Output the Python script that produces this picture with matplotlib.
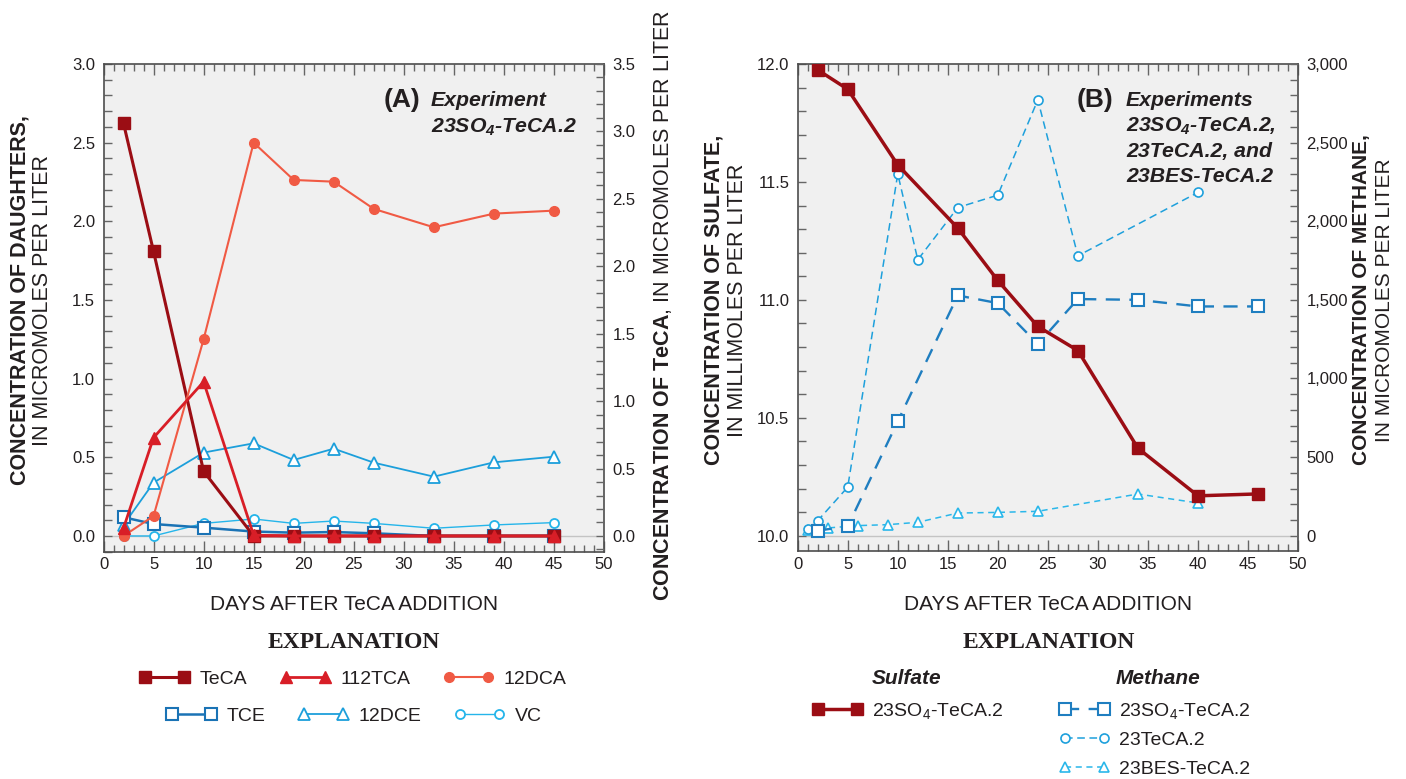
import numpy as np
import matplotlib
matplotlib.use("Agg")
import matplotlib.pyplot as plt
from matplotlib.ticker import MultipleLocator, StrMethodFormatter

plt.rcParams.update({
    "font.family": ["Liberation Sans", "DejaVu Sans"],
    "mathtext.fontset": "custom",
    "mathtext.rm": "Liberation Sans",
    "mathtext.bf": "Liberation Sans:bold",
    "mathtext.it": "Liberation Sans:italic",
    "mathtext.bfit": "Liberation Sans:bold:italic",
})

# ---- Panel A data: experiment 23SO4-TeCA.2 ----
days_a = [2, 5, 10, 15, 19, 23, 27, 33, 39, 45]
teca = [3.06, 2.11, 0.48, 0.0, 0.0, 0.0, 0.0, 0.0, 0.0, 0.0]          # right axis
tca112 = [0.05, 0.625, 0.98, 0.005, 0.0, 0.0, 0.0, 0.0, 0.0, 0.0]
dca12 = [0.0, 0.127, 1.25, 2.50, 2.263, 2.252, 2.079, 1.962, 2.049, 2.068]
tce = [0.119, 0.076, 0.053, 0.028, 0.021, 0.025, 0.017, 0.0, 0.0, 0.0]
dce12 = [0.07, 0.339, 0.53, 0.589, 0.483, 0.555, 0.466, 0.377, 0.468, 0.504]
vc = [0.0, 0.0, 0.08, 0.108, 0.08, 0.095, 0.08, 0.049, 0.07, 0.085]

# ---- Panel B data: sulfate (left axis) and methane (right axis) ----
sulfate_days = [2, 5, 10, 16, 20, 24, 28, 34, 40, 46]
sulfate = [11.975, 11.893, 11.572, 11.304, 11.082, 10.887, 10.785, 10.371, 10.169, 10.177]
meth_so4_days = [2, 5, 10, 16, 20, 24, 28, 34, 40, 46]
meth_so4 = [32, 59, 727, 1528, 1479, 1219, 1505, 1500, 1458, 1458]
meth_teca_days = [1, 2, 5, 10, 12, 16, 20, 24, 28, 40]
meth_teca = [42, 95, 309, 2301, 1755, 2087, 2166, 2772, 1780, 2183]
meth_bes_days = [1, 3, 6, 9, 12, 16, 20, 24, 34, 40]
meth_bes = [38, 49, 64, 70, 85, 144, 148, 155, 265, 208]

C_TECA = "#9b0d14"
C_TCA = "#d81e27"
C_DCA = "#f05a44"
C_TCE = "#1a73b5"
C_DCE = "#1c9fdb"
C_VC = "#25b5ea"
C_M1 = "#1f7ec0"
C_M2 = "#1ea0dc"
C_M3 = "#2ab7ea"
BG = "#f0f0f0"
TXT = "#231f20"

W, H = 1406, 779


def fx(x):
    return x / W


def fy(y):
    return 1 - y / H


def style_axes(ax, ax2, yminor_l, yminor_r):
    ax.set_facecolor(BG)
    for s in ax.spines.values():
        s.set_color("#4d4d4d")
        s.set_linewidth(1.2)
    ax.set_xlim(0, 50)
    ax.xaxis.set_major_locator(MultipleLocator(5))
    ax.xaxis.set_minor_locator(MultipleLocator(1))
    ax.tick_params(axis="x", which="both", direction="in", top=True, bottom=True,
                   color="#666666", labelsize=12, labelcolor=TXT, pad=4)
    ax.tick_params(axis="x", which="major", length=8, width=1)
    ax.tick_params(axis="x", which="minor", length=5, width=1)
    ax.yaxis.set_minor_locator(MultipleLocator(yminor_l))
    ax.tick_params(axis="y", which="both", direction="in", left=True, right=False,
                   length=6, width=1, color="#666666", labelsize=12, labelcolor=TXT, pad=6)
    ax2.yaxis.set_minor_locator(MultipleLocator(yminor_r))
    ax2.tick_params(axis="y", which="both", direction="in", right=True, left=False,
                    length=6, width=1, color="#666666", labelsize=12, labelcolor=TXT, pad=6)
    for s in ax2.spines.values():
        s.set_visible(False)


fig = plt.figure(figsize=(W / 100, H / 100), dpi=100)

# ================= Panel A =================
axA = fig.add_axes([fx(103.5), fy(551.7), fx(604) - fx(103.5), fy(64) - fy(551.7)])
axA2 = axA.twinx()
axA.set_ylim(-0.1, 3.0)
axA2.set_ylim(-0.1 * 3.5 / 3.0, 3.5)
axA.yaxis.set_major_locator(MultipleLocator(0.5))
axA2.yaxis.set_major_locator(MultipleLocator(0.5))
axA.yaxis.set_major_formatter(StrMethodFormatter("{x:.1f}"))
axA2.yaxis.set_major_formatter(StrMethodFormatter("{x:.1f}"))
style_axes(axA, axA2, 0.1, 0.1)
axA.axhline(0, xmin=0.016, xmax=0.984, color="#c4c4c4", lw=1, zorder=1)

l_vc, = axA.plot(days_a, vc, "-o", color=C_VC, lw=1.0, ms=6.5, mfc="white", mec=C_VC, mew=1.3,
                 label="VC", zorder=2)
l_dce, = axA.plot(days_a, dce12, "-^", color=C_DCE, lw=1.3, ms=8, mfc="white", mec=C_DCE, mew=1.3,
                  label="12DCE", zorder=3)
l_tce, = axA.plot(days_a, tce, "-s", color=C_TCE, lw=1.8, ms=8, mfc="white", mec=C_TCE, mew=1.5,
                  label="TCE", zorder=4)
# TeCA uses the right-hand scale
l_teca, = axA.plot(days_a, teca, "-s", color=C_TECA, lw=2.2, ms=8.5, mfc=C_TECA, mec=C_TECA,
                   transform=axA2.transData, label="TeCA", zorder=5)
l_dca, = axA.plot(days_a, dca12, "-o", color=C_DCA, lw=1.5, ms=7, mfc=C_DCA, mec=C_DCA,
                  label="12DCA", zorder=6)
l_tca, = axA.plot(days_a, tca112, "-^", color=C_TCA, lw=2.0, ms=8.5, mfc=C_TCA, mec=C_TCA,
                  label="112TCA", zorder=7)
axA.set_xlim(0, 50)
axA.set_ylim(-0.1, 3.0)

# ================= Panel B =================
axB = fig.add_axes([fx(797.7), fy(551), fx(1298) - fx(797.7), fy(64) - fy(551)])
axB2 = axB.twinx()
axB.set_ylim(10.0 - 0.065, 12.0)
axB2.set_ylim(-0.065 * 1500, 3000)
axB.yaxis.set_major_locator(MultipleLocator(0.5))
axB2.yaxis.set_major_locator(MultipleLocator(500))
axB.yaxis.set_major_formatter(StrMethodFormatter("{x:.1f}"))
axB2.yaxis.set_major_formatter(StrMethodFormatter("{x:,.0f}"))
style_axes(axB, axB2, 0.1, 100)
axB.axhline(10.0, xmin=0.016, xmax=0.984, color="#c4c4c4", lw=1, zorder=1)

m_bes, = axB.plot(meth_bes_days, meth_bes, "--^", color=C_M3, lw=1.1, dashes=(4, 3), ms=7.5,
                  mfc="white", mec=C_M3, mew=1.2, transform=axB2.transData,
                  label="23BES-TeCA.2", zorder=2)
m_teca, = axB.plot(meth_teca_days, meth_teca, "--o", color=C_M2, lw=1.1, dashes=(5, 3), ms=6.5,
                   mfc="white", mec=C_M2, mew=1.2, transform=axB2.transData,
                   label="23TeCA.2", zorder=3)
m_so4, = axB.plot(meth_so4_days, meth_so4, "--s", color=C_M1, lw=1.7, dashes=(6, 4), ms=8,
                  mfc="white", mec=C_M1, mew=1.5, transform=axB2.transData,
                  label=r"23SO$_{\mathrm{4}}$-TeCA.2", zorder=4)
s_so4, = axB.plot(sulfate_days, sulfate, "-s", color=C_TECA, lw=2.5, ms=9, mfc=C_TECA, mec=C_TECA,
                  label=r"23SO$_{\mathrm{4}}$-TeCA.2", zorder=5)
axB.set_xlim(0, 50)
axB.set_ylim(10.0 - 0.065, 12.0)

# ---- axis titles ----
LAB = 15.5
fig.text(fx(20), fy(300), "CONCENTRATION OF DAUGHTERS,", rotation=90, ha="center", va="center",
         fontsize=LAB, fontweight="bold", color=TXT)
fig.text(fx(43), fy(300), "IN MICROMOLES PER LITER", rotation=90, ha="center", va="center",
         fontsize=LAB, color=TXT)
fig.text(fx(663), fy(305), r"$\mathbf{CONCENTRATION\ OF\ TeCA}$, IN MICROMOLES PER LITER",
         rotation=90, ha="center", va="center", fontsize=LAB, color=TXT)
fig.text(fx(714), fy(300), "CONCENTRATION OF SULFATE,", rotation=90, ha="center", va="center",
         fontsize=LAB, fontweight="bold", color=TXT)
fig.text(fx(737), fy(300), "IN MILLIMOLES PER LITER", rotation=90, ha="center", va="center",
         fontsize=LAB, color=TXT)
fig.text(fx(1361), fy(300), "CONCENTRATION OF METHANE,", rotation=90, ha="center", va="center",
         fontsize=15, fontweight="bold", color=TXT)
fig.text(fx(1384), fy(300), "IN MICROMOLES PER LITER", rotation=90, ha="center", va="center",
         fontsize=15, color=TXT)
fig.text(fx(354), fy(604), "DAYS AFTER TeCA ADDITION", ha="center", va="center", fontsize=15, color=TXT)
fig.text(fx(1048), fy(604), "DAYS AFTER TeCA ADDITION", ha="center", va="center", fontsize=15, color=TXT)

# ---- panel annotations ----
fig.text(fx(384), fy(107), "(A)", fontsize=19, fontweight="bold", color=TXT, va="baseline")
fig.text(fx(431), fy(106), "Experiment", fontsize=15.3, fontweight="bold", style="italic",
         color=TXT, va="baseline")
fig.text(fx(431), fy(133), r"23SO$_{\mathbfit{4}}$-TeCA.2", fontsize=15.3, fontweight="bold",
         style="italic", color=TXT, va="baseline")
fig.text(fx(1077), fy(107), "(B)", fontsize=19, fontweight="bold", color=TXT, va="baseline")
fig.text(fx(1126), fy(106), "Experiments", fontsize=15.3, fontweight="bold", style="italic",
         color=TXT, va="baseline")
for i, line in enumerate([r"23SO$_{\mathbfit{4}}$-TeCA.2,", "23TeCA.2, and", "23BES-TeCA.2"]):
    fig.text(fx(1126), fy(132 + 25 * i), line, fontsize=15.3, fontweight="bold", style="italic",
             color=TXT, va="baseline")

# ---- explanations ----
for cx in (354, 1049):
    fig.text(fx(cx), fy(642), "EXPLANATION", ha="center", va="center", fontsize=17,
             fontweight="bold", family="Liberation Serif", color=TXT)

leg_kw = dict(frameon=False, numpoints=2, handlelength=2.6, handletextpad=0.5,
              columnspacing=1.7, borderpad=0, borderaxespad=0, fontsize=14,
              labelcolor=TXT)
fig.legend(handles=[l_teca, l_tca, l_dca], loc="center", ncol=3,
           bbox_to_anchor=(fx(353), fy(679)), **leg_kw)
fig.legend(handles=[l_tce, l_dce, l_vc], loc="center", ncol=3,
           bbox_to_anchor=(fx(354), fy(716)), **leg_kw)

fig.text(fx(907), fy(679), "Sulfate", ha="center", va="center", fontsize=15,
         fontweight="bold", style="italic", color=TXT)
fig.text(fx(1158), fy(679), "Methane", ha="center", va="center", fontsize=15,
         fontweight="bold", style="italic", color=TXT)
fig.legend(handles=[s_so4], loc="center left", bbox_to_anchor=(fx(812), fy(711)), **leg_kw)
for h, yy in zip([m_so4, m_teca, m_bes], [711, 740, 769]):
    fig.legend(handles=[h], loc="center left", bbox_to_anchor=(fx(1059), fy(yy)), **leg_kw)

fig.savefig("out.png", dpi=100, facecolor="white")
